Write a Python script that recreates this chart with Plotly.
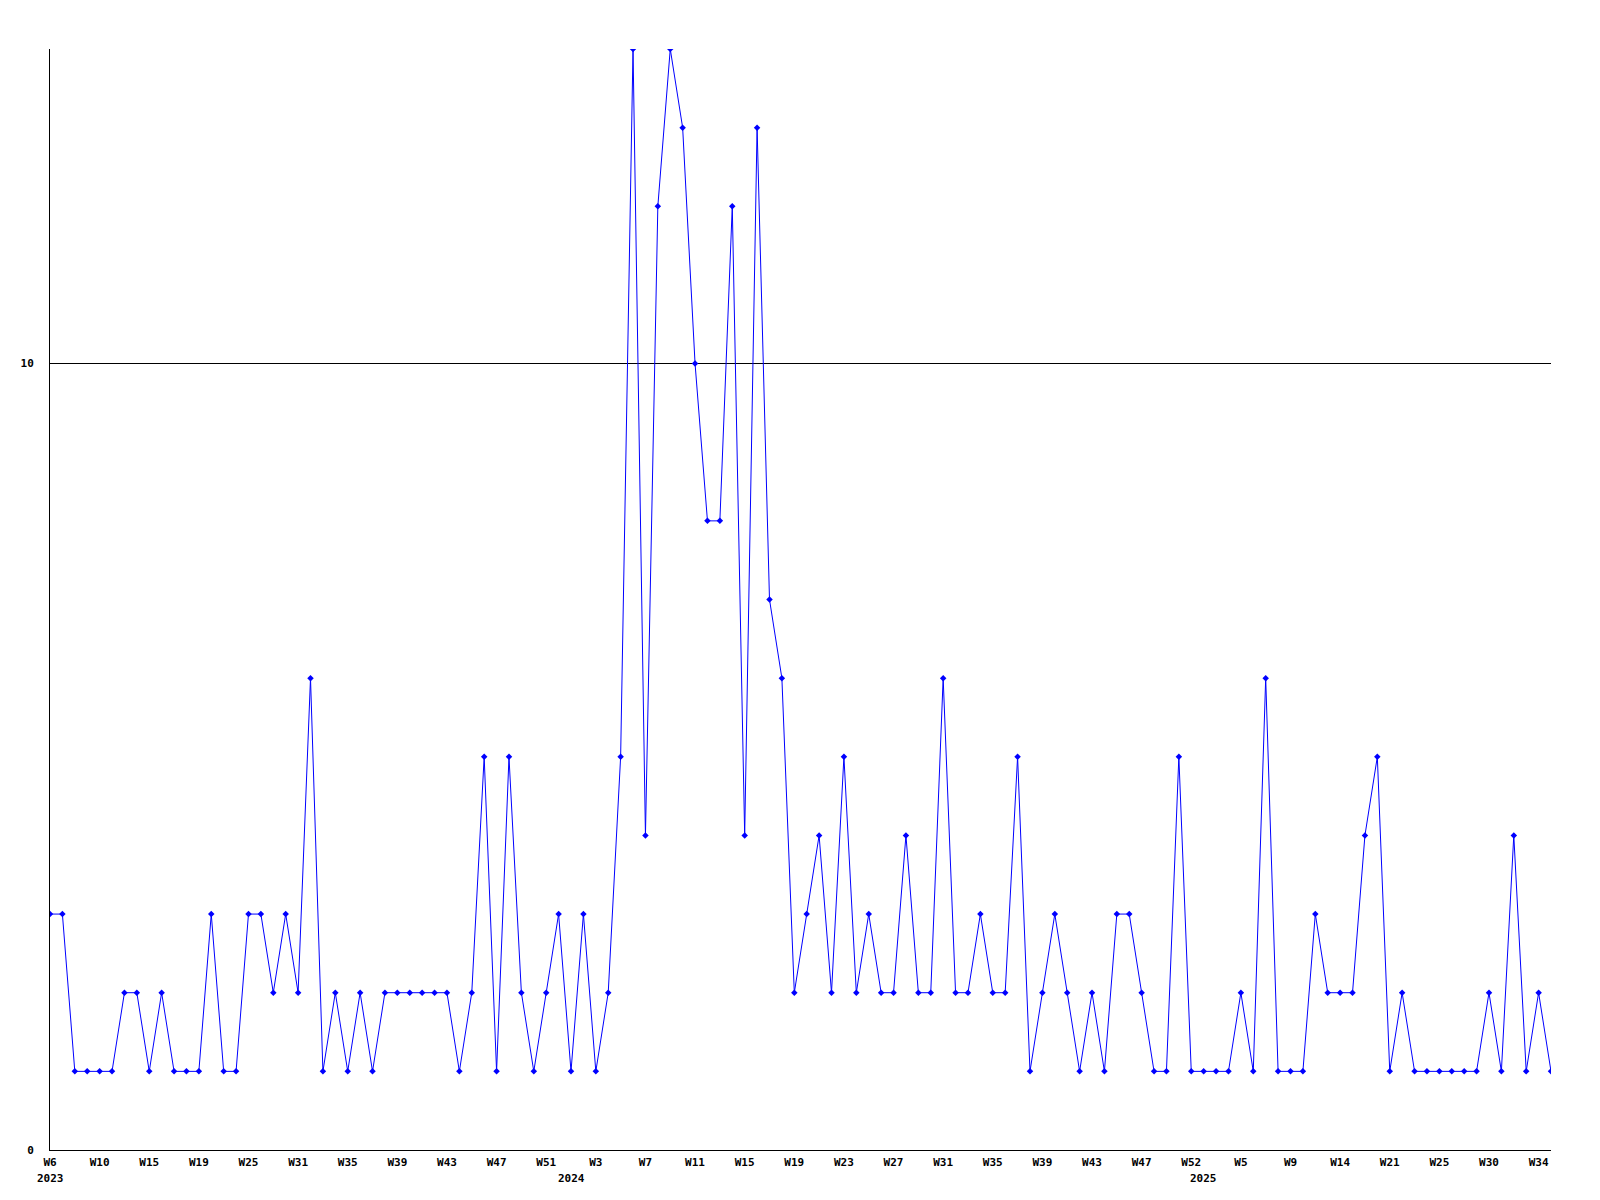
import plotly.graph_objects as go

# ---- data ----
weeks = [
    "2023-W06", "2023-W07", "2023-W08", "2023-W09", "2023-W10", "2023-W11", "2023-W12", "2023-W13",
    "2023-W15", "2023-W16", "2023-W17", "2023-W18", "2023-W19", "2023-W20", "2023-W22", "2023-W23",
    "2023-W25", "2023-W26", "2023-W27", "2023-W29", "2023-W31", "2023-W32", "2023-W33", "2023-W34",
    "2023-W35", "2023-W36", "2023-W37", "2023-W38", "2023-W39", "2023-W40", "2023-W41", "2023-W42",
    "2023-W43", "2023-W44", "2023-W45", "2023-W46", "2023-W47", "2023-W48", "2023-W49", "2023-W50",
    "2023-W51", "2023-W52", "2024-W01", "2024-W02", "2024-W03", "2024-W04", "2024-W05", "2024-W06",
    "2024-W07", "2024-W08", "2024-W09", "2024-W10", "2024-W11", "2024-W12", "2024-W13", "2024-W14",
    "2024-W15", "2024-W16", "2024-W17", "2024-W18", "2024-W19", "2024-W20", "2024-W21", "2024-W22",
    "2024-W23", "2024-W24", "2024-W25", "2024-W26", "2024-W27", "2024-W28", "2024-W29", "2024-W30",
    "2024-W31", "2024-W32", "2024-W33", "2024-W34", "2024-W35", "2024-W36", "2024-W37", "2024-W38",
    "2024-W39", "2024-W40", "2024-W41", "2024-W42", "2024-W43", "2024-W44", "2024-W45", "2024-W46",
    "2024-W47", "2024-W48", "2024-W49", "2024-W50", "2024-W52", "2025-W01", "2025-W02", "2025-W03",
    "2025-W05", "2025-W06", "2025-W07", "2025-W08", "2025-W09", "2025-W11", "2025-W12", "2025-W13",
    "2025-W14", "2025-W16", "2025-W17", "2025-W19", "2025-W21", "2025-W22", "2025-W23", "2025-W24",
    "2025-W25", "2025-W26", "2025-W27", "2025-W29", "2025-W30", "2025-W31", "2025-W32", "2025-W33",
    "2025-W34", "2025-W35",
]

counts = [
    3, 3, 1, 1, 1, 1, 2, 2, 1, 2, 1, 1, 1, 3, 1, 1, 3, 3, 2, 3, 2, 6, 1, 2,
    1, 2, 1, 2, 2, 2, 2, 2, 2, 1, 2, 5, 1, 5, 2, 1, 2, 3, 1, 3, 1, 2, 5, 14,
    4, 12, 14, 13, 10, 8, 8, 12, 4, 13, 7, 6,
    2, 3, 4, 2, 5, 2, 3, 2, 2, 4, 2, 2, 6, 2, 2, 3, 2, 2, 5, 1, 2, 3, 2,
    1, 2, 1, 3, 3, 2, 1, 1, 5, 1, 1, 1, 1, 2, 1, 6, 1, 1, 1, 3, 2, 2,
    2, 4, 5, 1, 2, 1, 1, 1, 1, 1, 1, 2, 1, 4, 1, 2, 1,
]

tick_weeks = weeks[::4]
tick_text = [w.split("-")[1].replace("W0", "W") for w in tick_weeks]

year_labels = ["2023", "2024", "2025"]
year_weeks = ["2023-W06", "2024-W01", "2025-W01"]

y_ticks = [0, 10]

font_family = "DejaVu Sans Mono"

fig = go.Figure()
fig.add_trace(go.Scatter(
    x=weeks, y=counts, mode="lines+markers",
    line=dict(color="#0000ff", width=1),
    marker=dict(symbol="diamond", size=5, color="#0000ff"),
    showlegend=False,
))

for lbl, wk in zip(year_labels, year_weeks):
    fig.add_annotation(
        x=wk, y=0, xref="x", yref="paper", text=lbl, showarrow=False,
        yshift=-20, yanchor="top",
        font=dict(family=font_family, size=11, color="black", weight="bold"),
    )

fig.update_layout(
    width=1592, height=1192,
    paper_bgcolor="white", plot_bgcolor="white",
    margin=dict(l=42, r=49, t=41, b=50),
    font=dict(family=font_family, size=11, color="black"),
    xaxis=dict(
        type="category", categoryorder="array", categoryarray=weeks,
        range=[0, len(weeks) - 1],
        tickmode="array", tickvals=tick_weeks, ticktext=tick_text,
        showgrid=False, zeroline=False,
        showline=True, linecolor="black", linewidth=1,
        ticks="", ticklabelstandoff=2,
        tickfont=dict(family=font_family, size=11, color="black", weight="bold"),
        tickangle=0,
    ),
    yaxis=dict(
        range=[0, 14],
        tickmode="array", tickvals=y_ticks, ticktext=[str(v) for v in y_ticks],
        showgrid=True, gridcolor="black", gridwidth=1,
        zeroline=False,
        showline=True, linecolor="black", linewidth=1,
        ticks="", ticklabelstandoff=13,
        tickfont=dict(family=font_family, size=11, color="black", weight="bold"),
    ),
)

fig.write_html("out.html")
